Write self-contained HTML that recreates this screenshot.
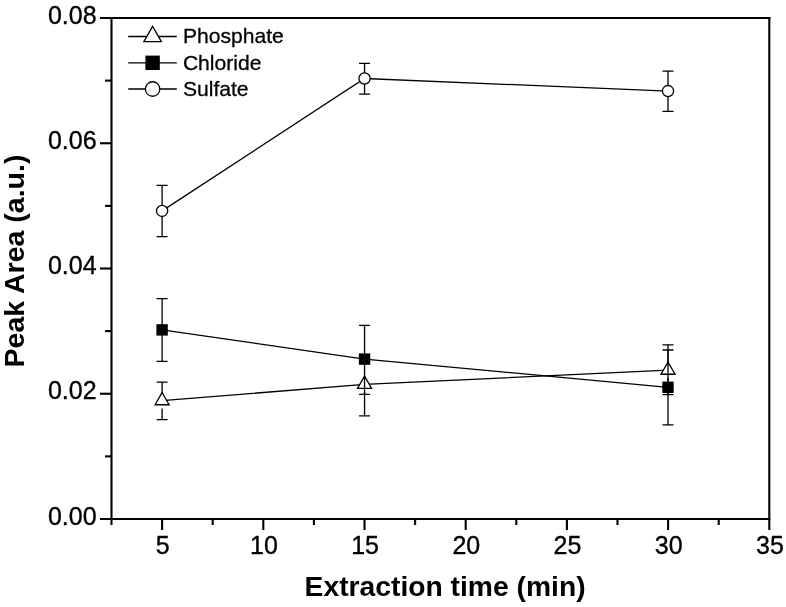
<!DOCTYPE html>
<html><head><meta charset="utf-8"><title>chart</title>
<style>
html,body{margin:0;padding:0;background:#fff;}
body{width:786px;height:607px;overflow:hidden;}
svg{display:block;will-change:transform;opacity:0.999;}
text{font-family:"Liberation Sans",sans-serif;fill:#000;}
.t{font-size:25px;stroke:#000;stroke-width:0.35px;}
.b{font-size:28.5px;font-weight:bold;}
.l{font-size:21.1px;stroke:#000;stroke-width:0.3px;}
</style></head><body>
<svg width="786" height="607" viewBox="0 0 786 607">
<rect width="786" height="607" fill="#fff"/>
<g stroke="#000" stroke-width="2.1" fill="none" stroke-linecap="butt">
<path d="M100.0 18.0H770.3"/>
<path d="M111.5 17.0V525.0"/>
<path d="M100.0 519.0H770.3"/>
<path d="M769.3 17.0V530.0"/>
<path d="M105.0 456.38H111.5"/>
<path d="M100.0 393.75H111.5"/>
<path d="M105.0 331.12H111.5"/>
<path d="M100.0 268.5H111.5"/>
<path d="M105.0 205.88H111.5"/>
<path d="M100.0 143.25H111.5"/>
<path d="M105.0 80.62H111.5"/>
<path d="M162.1 519.0V530.0"/>
<path d="M212.7 519.0V525.0"/>
<path d="M263.3 519.0V530.0"/>
<path d="M313.9 519.0V525.0"/>
<path d="M364.5 519.0V530.0"/>
<path d="M415.1 519.0V525.0"/>
<path d="M465.7 519.0V530.0"/>
<path d="M516.3 519.0V525.0"/>
<path d="M566.9 519.0V530.0"/>
<path d="M617.5 519.0V525.0"/>
<path d="M668.1 519.0V530.0"/>
<path d="M718.7 519.0V525.0"/>
</g>
<text class="t" x="96.6" y="524.7" text-anchor="end">0.00</text>
<text class="t" x="96.6" y="399.45" text-anchor="end">0.02</text>
<text class="t" x="96.6" y="274.2" text-anchor="end">0.04</text>
<text class="t" x="96.6" y="148.95" text-anchor="end">0.06</text>
<text class="t" x="96.6" y="23.7" text-anchor="end">0.08</text>
<text class="t" x="162.7" y="554.4" text-anchor="middle">5</text>
<text class="t" x="263.9" y="554.4" text-anchor="middle">10</text>
<text class="t" x="365.1" y="554.4" text-anchor="middle">15</text>
<text class="t" x="466.3" y="554.4" text-anchor="middle">20</text>
<text class="t" x="567.5" y="554.4" text-anchor="middle">25</text>
<text class="t" x="668.7" y="554.4" text-anchor="middle">30</text>
<text class="t" x="769.9" y="554.4" text-anchor="middle">35</text>
<text class="b" style="font-size:28.25px" x="445.1" y="595.8" text-anchor="middle">Extraction time (min)</text>
<text class="b" transform="translate(23.6 261) rotate(-90)" text-anchor="middle">Peak Area (a.u.)</text>
<g stroke="#000" stroke-width="1.3" fill="none">
<polyline points="162.1 400.7 364.55 384.3 668.0 370.2"/>
<path d="M162.1 400.7V382.1M156.6 382.1H167.6"/>
<path d="M162.1 408.5V419.6M156.6 419.6H167.6"/>
<path d="M364.55 392.1V394.3M359.05 394.3H370.05"/>
<path d="M668.0 370.2V344.8M662.5 344.8H673.5"/>
<path d="M668.0 378.0V394.6M662.5 394.6H673.5"/>
</g>
<path d="M162.10 392.56L169.15 404.77H155.05Z" fill="#fff" stroke="#000" stroke-width="1.3" stroke-linejoin="miter"/>
<path d="M364.55 376.16L371.60 388.37H357.50Z" fill="#fff" stroke="#000" stroke-width="1.3" stroke-linejoin="miter"/>
<path d="M668.00 362.06L675.05 374.27H660.95Z" fill="#fff" stroke="#000" stroke-width="1.3" stroke-linejoin="miter"/>
<g stroke="#000" stroke-width="1.3" fill="none">
<polyline points="162.1 329.9 364.55 359.1 668.0 387.3"/>
<path d="M162.1 329.9V298.6M156.6 298.6H167.6"/>
<path d="M162.1 329.9V361.4M156.6 361.4H167.6"/>
<path d="M364.55 359.1V325.4M359.05 325.4H370.05"/>
<path d="M364.55 359.1V415.8M359.05 415.8H370.05"/>
<path d="M668.0 387.3V350.0M662.5 350.0H673.5"/>
<path d="M668.0 387.3V424.8M662.5 424.8H673.5"/>
</g>
<rect x="156.40" y="324.20" width="11.40" height="11.40" fill="#000"/>
<rect x="358.85" y="353.40" width="11.40" height="11.40" fill="#000"/>
<rect x="662.30" y="381.60" width="11.40" height="11.40" fill="#000"/>
<g stroke="#000" stroke-width="1.3" fill="none">
<polyline points="162.1 210.9 364.55 78.5 668.0 91.1"/>
<path d="M162.1 210.9V185.4M156.6 185.4H167.6"/>
<path d="M162.1 210.9V236.6M156.6 236.6H167.6"/>
<path d="M364.55 78.5V63.3M359.05 63.3H370.05"/>
<path d="M364.55 78.5V94.2M359.05 94.2H370.05"/>
<path d="M668.0 91.1V71.1M662.5 71.1H673.5"/>
<path d="M668.0 91.1V111.3M662.5 111.3H673.5"/>
</g>
<circle cx="162.10" cy="210.90" r="5.60" fill="#fff" stroke="#000" stroke-width="1.3"/>
<circle cx="364.55" cy="78.50" r="5.60" fill="#fff" stroke="#000" stroke-width="1.3"/>
<circle cx="668.00" cy="91.10" r="5.60" fill="#fff" stroke="#000" stroke-width="1.3"/>
<path d="M128.2 36.5H176.8" stroke="#000" stroke-width="1.3"/>
<path d="M152.60 26.40L161.35 41.55H143.85Z" fill="#fff" stroke="#000" stroke-width="1.3" stroke-linejoin="miter"/>
<text class="l" x="182.9" y="43.20">Phosphate</text>
<path d="M128.2 62.8H176.8" stroke="#000" stroke-width="1.3"/>
<rect x="145.40" y="55.60" width="14.40" height="14.40" fill="#000"/>
<text class="l" x="182.9" y="69.50">Chloride</text>
<path d="M128.2 89.0H176.8" stroke="#000" stroke-width="1.3"/>
<circle cx="152.60" cy="89.00" r="7.25" fill="#fff" stroke="#000" stroke-width="1.3"/>
<text class="l" x="182.9" y="95.70">Sulfate</text>
</svg>
</body></html>
